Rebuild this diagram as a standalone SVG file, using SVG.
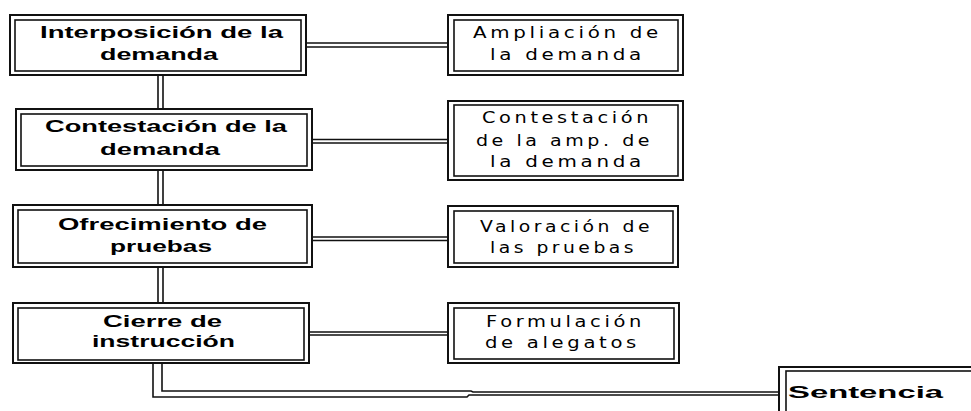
<svg xmlns="http://www.w3.org/2000/svg" width="971" height="411" viewBox="0 0 971 411">
<style>
.o{fill:#fff;stroke:#111;stroke-width:2}
.i{fill:none;stroke:#111;stroke-width:1.6}
.c{fill:none;stroke:#111;stroke-width:1.6}
.b{font-family:"Liberation Sans",Arial,sans-serif;font-weight:bold;font-size:17px;fill:#000}
.r{font-family:"DejaVu Sans","Liberation Sans",sans-serif;font-size:16px;letter-spacing:3px;fill:#000}
</style>
<rect width="971" height="411" fill="#fff"/>
<g id="connectors">
<path class="c" d="M306 43H448M306 47H448"/>
<path class="c" d="M312 139.5H448M312 143H448"/>
<path class="c" d="M312 237H448M312 240.5H448"/>
<path class="c" d="M309 332H448M309 335H448"/>
<path class="c" d="M158 75V109M163 75V109"/>
<path class="c" d="M158 170V205M163 170V205"/>
<path class="c" d="M158 267V303M163 267V303"/>
<path class="c" d="M153 363V397H467L469 395H778"/>
<path class="c" d="M162 363V391H471L473 392H778"/>
</g>
<g id="n1">
<rect class="o" x="10" y="15" width="296" height="60"/>
<rect class="i" x="15" y="20" width="286" height="51"/>
<text class="b" x="40" y="38" textLength="243" lengthAdjust="spacingAndGlyphs">Interposición de la</text>
<text class="b" x="100" y="60" textLength="118" lengthAdjust="spacingAndGlyphs">demanda</text>
</g>
<g id="n2">
<rect class="o" x="16" y="109" width="296" height="61"/>
<rect class="i" x="21" y="114" width="286" height="52"/>
<text class="b" x="45" y="132" textLength="242" lengthAdjust="spacingAndGlyphs">Contestación de la</text>
<text class="b" x="100" y="155" textLength="120" lengthAdjust="spacingAndGlyphs">demanda</text>
</g>
<g id="n3">
<rect class="o" x="13" y="205" width="299" height="62"/>
<rect class="i" x="18" y="210" width="289" height="53"/>
<text class="b" x="58" y="230" textLength="209" lengthAdjust="spacingAndGlyphs">Ofrecimiento de</text>
<text class="b" x="110" y="252" textLength="102" lengthAdjust="spacingAndGlyphs">pruebas</text>
</g>
<g id="n4">
<rect class="o" x="13" y="303" width="296" height="60"/>
<rect class="i" x="18" y="308" width="286" height="52"/>
<text class="b" x="103" y="327" textLength="119" lengthAdjust="spacingAndGlyphs">Cierre de</text>
<text class="b" x="92" y="347" textLength="143" lengthAdjust="spacingAndGlyphs">instrucción</text>
</g>
<g id="nA">
<rect class="o" x="448" y="15" width="235" height="60"/>
<rect class="i" x="454" y="20" width="224" height="51"/>
<text class="r" x="473" y="38" textLength="189" lengthAdjust="spacingAndGlyphs">Ampliación de</text>
<text class="r" x="490" y="60" textLength="155" lengthAdjust="spacingAndGlyphs">la demanda</text>
</g>
<g id="nB">
<rect class="o" x="448" y="101" width="235" height="79"/>
<rect class="i" x="454" y="105" width="224" height="71"/>
<text class="r" x="482" y="123" textLength="170" lengthAdjust="spacingAndGlyphs">Contestación</text>
<text class="r" x="476" y="146" textLength="177" lengthAdjust="spacingAndGlyphs">de la amp. de</text>
<text class="r" x="490" y="167" textLength="155" lengthAdjust="spacingAndGlyphs">la demanda</text>
</g>
<g id="nC">
<rect class="o" x="448" y="206" width="230" height="61"/>
<rect class="i" x="454" y="211" width="219" height="52"/>
<text class="r" x="480" y="232" textLength="173" lengthAdjust="spacingAndGlyphs">Valoración de</text>
<text class="r" x="490" y="253" textLength="147" lengthAdjust="spacingAndGlyphs">las pruebas</text>
</g>
<g id="nD">
<rect class="o" x="448" y="303" width="231" height="60"/>
<rect class="i" x="454" y="308" width="220" height="51"/>
<text class="r" x="486" y="327" textLength="159" lengthAdjust="spacingAndGlyphs">Formulación</text>
<text class="r" x="485" y="348" textLength="155" lengthAdjust="spacingAndGlyphs">de alegatos</text>
</g>
<g id="nS">
<rect class="o" x="779" y="367" width="230" height="70"/>
<rect class="i" x="786" y="371" width="215" height="60"/>
<text class="b" x="788" y="398" font-size="18" textLength="155" lengthAdjust="spacingAndGlyphs">Sentencia</text>
</g>
</svg>
